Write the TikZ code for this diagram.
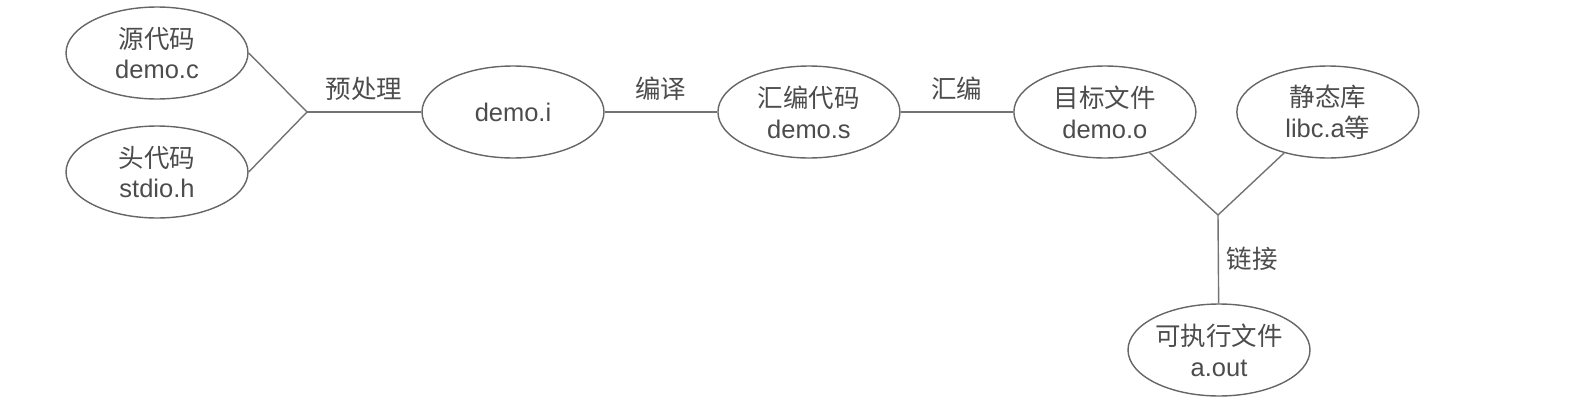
\documentclass[tikz,border=0pt]{standalone}
\usepackage{fontspec}
\setmainfont{Liberation Sans}
\newfontfamily\cjk{Noto Sans CJK SC}
\usetikzlibrary{
    shapes,
}

\begin{document}
\begin{tikzpicture}[x=0.02cm, y=-0.02cm, node distance={5.92cm},
    main/.style = {draw=black!60, line width=0.8pt, ellipse, minimum width=3.64cm, minimum height=1.84cm, inner sep=0pt, align=center, text=black!70, font=\fontsize{14.5}{17.5}\selectfont},
    lbl/.style = {text=black!70, font=\cjk\fontsize{14.5}{17.5}\selectfont},
    conn/.style = {draw=black!55, line width=0.8pt}]
    \useasboundingbox (0,0) rectangle (1576,406);
    \node[main] (src) at (157,53)  {{\cjk 源代码}\\demo.c};
    \node[main] (hdr) at (157,172) {{\cjk 头代码}\\stdio.h};
    \coordinate (j1) at (307,112);
    \node[main] (demoi) at (513,112) {demo.i};
    \node[main] (demos) [right of=demoi] {{\cjk 汇编代码}\\demo.s};
    \node[main] (demoo) [right of=demos] {{\cjk 目标文件}\\demo.o};
    \node[main] (lib)   [right of=demoo, node distance=4.46cm] {{\cjk 静态库}\\libc.a{\cjk 等}};
    \coordinate (j2) at (1218,215);
    \node[main] (aout) at (1219,350) {{\cjk 可执行文件}\\a.out};
    \draw[conn] (src.east) -- (j1);
    \draw[conn] (hdr.east) -- (j1);
    \draw[conn] (j1) -- node[lbl, above=3pt] {预处理} (demoi);
    \draw[conn] (demoi) -- node[lbl, above=3pt] {编译} (demos);
    \draw[conn] (demos) -- node[lbl, above=3pt] {汇编} (demoo);
    \draw[conn] (demoo) -- (j2);
    \draw[conn] (lib) -- (j2);
    \draw[conn] (j2) -- node[lbl, right=1pt] {链接} (aout);
\end{tikzpicture}
\end{document}
